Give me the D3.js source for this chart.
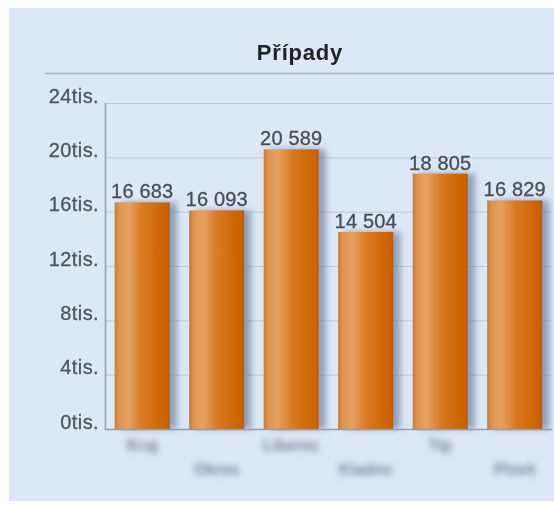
<!DOCTYPE html>
<html>
<head>
<meta charset="utf-8">
<script src="https://cdn.jsdelivr.net/npm/d3@7"></script>
<style>
  body { margin: 0; background: #ffffff; }
  svg { display: block; }
</style>
</head>
<body>
<div id="chart"></div>
<script>
// data
var categories = ["Kraj", "Okres", "Liberec", "Kladno", "Tip", "Plzeň"];
var values = [16683, 16093, 20589, 14504, 18805, 16829];
var yTicks = [0, 4000, 8000, 12000, 16000, 20000, 24000];
var title = "Případy";

var width = 554, height = 507;
var margin = { top: 103, right: 2, bottom: 78, left: 105 };

var svg = d3.select("#chart")
    .append("svg")
    .attr("width", width)
    .attr("height", height);

var defs = svg.append("defs");

var grad = defs.append("linearGradient")
    .attr("id", "barGrad")
    .attr("x1", "0%").attr("x2", "100%").attr("y1", "0%").attr("y2", "0%");
[[0, "#cf7a2a"], [0.08, "#de9450"], [0.25, "#e6a263"], [0.5, "#da7b24"], [0.8, "#cf6806"], [0.95, "#c96205"], [1, "#b85a08"]]
    .forEach(function(s) {
        grad.append("stop").attr("offset", s[0]).attr("stop-color", s[1]);
    });

var shadow = defs.append("filter")
    .attr("id", "shadow")
    .attr("x", "-20%").attr("y", "-5%").attr("width", "160%").attr("height", "110%");
shadow.append("feDropShadow")
    .attr("dx", 7).attr("dy", 0)
    .attr("stdDeviation", 3)
    .attr("flood-color", "#64799a")
    .attr("flood-opacity", 0.65);

var blur = defs.append("filter").attr("id", "blur")
    .attr("x", "-30%").attr("y", "-60%").attr("width", "160%").attr("height", "220%");
blur.append("feGaussianBlur").attr("stdDeviation", 3);

var soft = defs.append("filter").attr("id", "soft");
soft.append("feGaussianBlur").attr("stdDeviation", 0.35);

// background panel
svg.append("rect")
    .attr("x", 9).attr("y", 8)
    .attr("width", width - 9).attr("height", 493)
    .attr("fill", "#dce8f6");

svg.append("text")
    .attr("x", 300)
    .attr("y", 60)
    .attr("text-anchor", "middle")
    .attr("font-family", "Liberation Sans, Arial, sans-serif")
    .attr("font-weight", "bold")
    .attr("font-size", 22)
    .attr("letter-spacing", 0.8)
    .attr("fill", "#222")
    .attr("filter", "url(#soft)")
    .text(title);

svg.append("line")
    .attr("x1", 45).attr("x2", width)
    .attr("y1", 73.5).attr("y2", 73.5)
    .attr("stroke", "#a9b5c8")
    .attr("stroke-width", 1.5);

var chartWidth = width - margin.left - margin.right;
var chartHeight = height - margin.top - margin.bottom;

var chartGroup = svg.append("g")
    .attr("transform", `translate(${margin.left}, ${margin.top})`);

var xScale = d3.scaleBand()
    .domain(categories)
    .range([0, chartWidth])
    .paddingInner(0.26)
    .paddingOuter(0.13);

var yScale = d3.scaleLinear()
    .domain([0, 24000])
    .range([chartHeight, 0]);

// grid
chartGroup.append("g")
    .selectAll("line")
    .data(yTicks.slice(1))
    .enter()
    .append("line")
    .attr("x1", 0).attr("x2", chartWidth)
    .attr("y1", d => yScale(d) + 0.5).attr("y2", d => yScale(d) + 0.5)
    .attr("stroke", "#bccadb")
    .attr("stroke-width", 1);

var leftAxis = d3.axisLeft(yScale)
    .tickValues(yTicks)
    .tickSize(0)
    .tickPadding(6)
    .tickFormat(d => (d / 1000) + "tis.");

var yAxis = chartGroup.append("g").call(leftAxis);
yAxis.select(".domain").remove();
yAxis.selectAll("text")
    .attr("font-family", "Liberation Sans, Arial, sans-serif")
    .attr("font-size", 20)
    .attr("letter-spacing", 0.4)
    .attr("fill", "#4f555e")
    .attr("stroke", "#4f555e")
    .attr("stroke-width", 0.3)
    .attr("filter", "url(#soft)")
    .attr("dy", "-0.05em");

// bars
chartGroup.append("g")
    .selectAll("rect")
    .data(values)
    .enter()
    .append("rect")
    .attr("x", (d, i) => xScale(categories[i]))
    .attr("y", d => yScale(d))
    .attr("width", xScale.bandwidth())
    .attr("height", d => chartHeight - yScale(d))
    .attr("fill", "url(#barGrad)")
    .attr("filter", "url(#shadow)");

// value labels
chartGroup.append("g")
    .selectAll("text")
    .data(values)
    .enter()
    .append("text")
    .attr("x", (d, i) => xScale(categories[i]) + xScale.bandwidth() / 2)
    .attr("y", d => yScale(d) - 4)
    .attr("text-anchor", "middle")
    .attr("font-family", "Liberation Sans, Arial, sans-serif")
    .attr("font-size", 20)
    .attr("letter-spacing", 0.2)
    .attr("fill", "#484d55")
    .attr("stroke", "#484d55")
    .attr("stroke-width", 0.3)
    .attr("filter", "url(#soft)")
    .text(d => d3.format(",")(d).replace(",", " "));

// axes lines
chartGroup.append("line")
    .attr("x1", 0.5).attr("x2", 0.5)
    .attr("y1", 0).attr("y2", chartHeight)
    .attr("stroke", "#8e9db2").attr("stroke-width", 1.5);
chartGroup.append("line")
    .attr("x1", 0).attr("x2", chartWidth)
    .attr("y1", chartHeight + 0.5).attr("y2", chartHeight + 0.5)
    .attr("stroke", "#8e9db2").attr("stroke-width", 1.5);

// category labels (blurred, staggered)
chartGroup.append("g")
    .selectAll("text")
    .data(categories)
    .enter()
    .append("text")
    .attr("x", d => xScale(d) + xScale.bandwidth() / 2)
    .attr("y", (d, i) => chartHeight + (i % 2 === 0 ? 22 : 46))
    .attr("text-anchor", "middle")
    .attr("font-family", "Liberation Sans, Arial, sans-serif")
    .attr("font-weight", "bold")
    .attr("font-size", 16)
    .attr("fill", "#75859b")
    .attr("filter", "url(#blur)")
    .text(d => d);
</script>
</body>
</html>
